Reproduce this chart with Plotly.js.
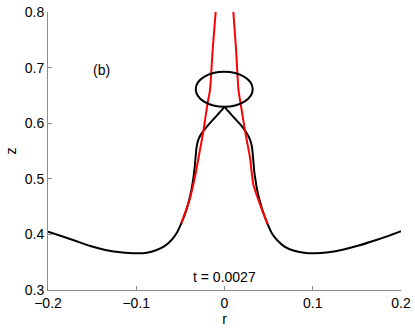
<!DOCTYPE html>
<html>
<head>
<meta charset="utf-8">
<script src="https://cdn.plot.ly/plotly-3.0.1.min.js"></script>
<style>
  html, body { margin: 0; padding: 0; background: #fff; }
  #plot { width: 415px; height: 328px; }
</style>
</head>
<body>
<div id="plot"></div>
<script>
// Interface profile, left half (from r = -0.2 up to the cusp at r = 0)
var rLeft = [-0.2, -0.185, -0.17, -0.152, -0.135, -0.118, -0.1, -0.088, -0.077, -0.068,
             -0.060, -0.054, -0.049, -0.044, -0.040, -0.037, -0.0352, -0.0338, -0.0328, -0.032,
             -0.031, -0.0295, -0.027, -0.024, -0.020, -0.016, -0.012, -0.008, -0.004, 0];
var zLeft = [0.405, 0.397, 0.389, 0.379, 0.372, 0.368, 0.366, 0.367, 0.372, 0.379,
             0.390, 0.403, 0.420, 0.440, 0.462, 0.484, 0.502, 0.520, 0.538, 0.552,
             0.562, 0.571, 0.579, 0.586, 0.594, 0.601, 0.608, 0.615, 0.622, 0.630];

// right half (from the cusp out to r = 0.2)
var rRight = [0, 0.004, 0.008, 0.012, 0.016, 0.020, 0.024, 0.027, 0.0295, 0.031,
              0.032, 0.0328, 0.0338, 0.0352, 0.037, 0.040, 0.044, 0.049, 0.054, 0.060,
              0.068, 0.078, 0.090, 0.1025, 0.118, 0.135, 0.152, 0.172, 0.185, 0.2];
var zRight = [0.630, 0.622, 0.615, 0.608, 0.601, 0.594, 0.585, 0.577, 0.568, 0.558,
              0.545, 0.530, 0.512, 0.497, 0.480, 0.460, 0.439, 0.418, 0.401, 0.389,
              0.378, 0.371, 0.367, 0.366, 0.368, 0.373, 0.380, 0.390, 0.397, 0.406];

// red reference curves
var rRedLeft = [-0.0100, -0.0135, -0.0164, -0.0195, -0.024, -0.0286, -0.0334, -0.040, -0.0490];
var zRedLeft = [0.80, 0.73, 0.66, 0.633, 0.585, 0.545, 0.504, 0.460, 0.420];
var rRedRight = [0.0100, 0.0132, 0.0158, 0.0185, 0.0235, 0.0289, 0.0326, 0.040, 0.0490];
var zRedRight = [0.80, 0.73, 0.66, 0.633, 0.584, 0.538, 0.490, 0.455, 0.418];

// detached drop: bounding box
var dropR = [-0.0326, 0.032];
var dropZ = [0.6297, 0.6926];

var black = {width: 2, color: 'black', shape: 'spline', smoothing: 0.5};
var red = {width: 2, color: '#ff0000', shape: 'spline', smoothing: 0.5};

var data = [
  {x: rLeft, y: zLeft, mode: 'lines', type: 'scatter', line: black},
  {x: rRight, y: zRight, mode: 'lines', type: 'scatter', line: black},
  {x: rRedLeft, y: zRedLeft, mode: 'lines', type: 'scatter', line: red},
  {x: rRedRight, y: zRedRight, mode: 'lines', type: 'scatter', line: red}
];

var axisStyle = {
  showline: true,
  linecolor: '#8c8c8c',
  linewidth: 1,
  ticks: 'inside',
  ticklen: 4,
  tickcolor: '#8c8c8c',
  showgrid: false,
  zeroline: false,
  tickfont: {family: 'Liberation Sans, Arial, sans-serif', size: 14, color: 'black'},
  automargin: false
};

var layout = {
  width: 415,
  height: 328,
  margin: {l: 48, r: 14, t: 12, b: 38},
  paper_bgcolor: 'white',
  plot_bgcolor: 'white',
  showlegend: false,
  font: {family: 'Liberation Sans, Arial, sans-serif', size: 14, color: 'black'},
  xaxis: Object.assign({}, axisStyle, {
    range: [-0.2, 0.2],
    tickvals: [-0.2, -0.1, 0, 0.1, 0.2],
    ticktext: ['\u22120.2', '\u22120.1', '0', '0.1', '0.2'],
    title: {text: 'r', font: {size: 14}, standoff: 2}
  }),
  yaxis: Object.assign({}, axisStyle, {
    range: [0.3, 0.8],
    tickvals: [0.3, 0.4, 0.5, 0.6, 0.7, 0.8],
    ticktext: ['0.3', '0.4', '0.5', '0.6', '0.7', '0.8'],
    title: {text: 'z', font: {size: 14}, standoff: 4}
  }),
  shapes: [{
    type: 'circle', xref: 'x', yref: 'y',
    x0: dropR[0], x1: dropR[1], y0: dropZ[0], y1: dropZ[1],
    line: {color: 'black', width: 2}
  }],
  annotations: [
    {x: -0.139, y: 0.695, xref: 'x', yref: 'y', text: '(b)', showarrow: false, font: {size: 14}},
    {x: 0, y: 0.323, xref: 'x', yref: 'y', text: 't = 0.0027', showarrow: false, font: {size: 14}}
  ]
};

Plotly.newPlot('plot', data, layout, {staticPlot: true, displayModeBar: false});
</script>
</body>
</html>
